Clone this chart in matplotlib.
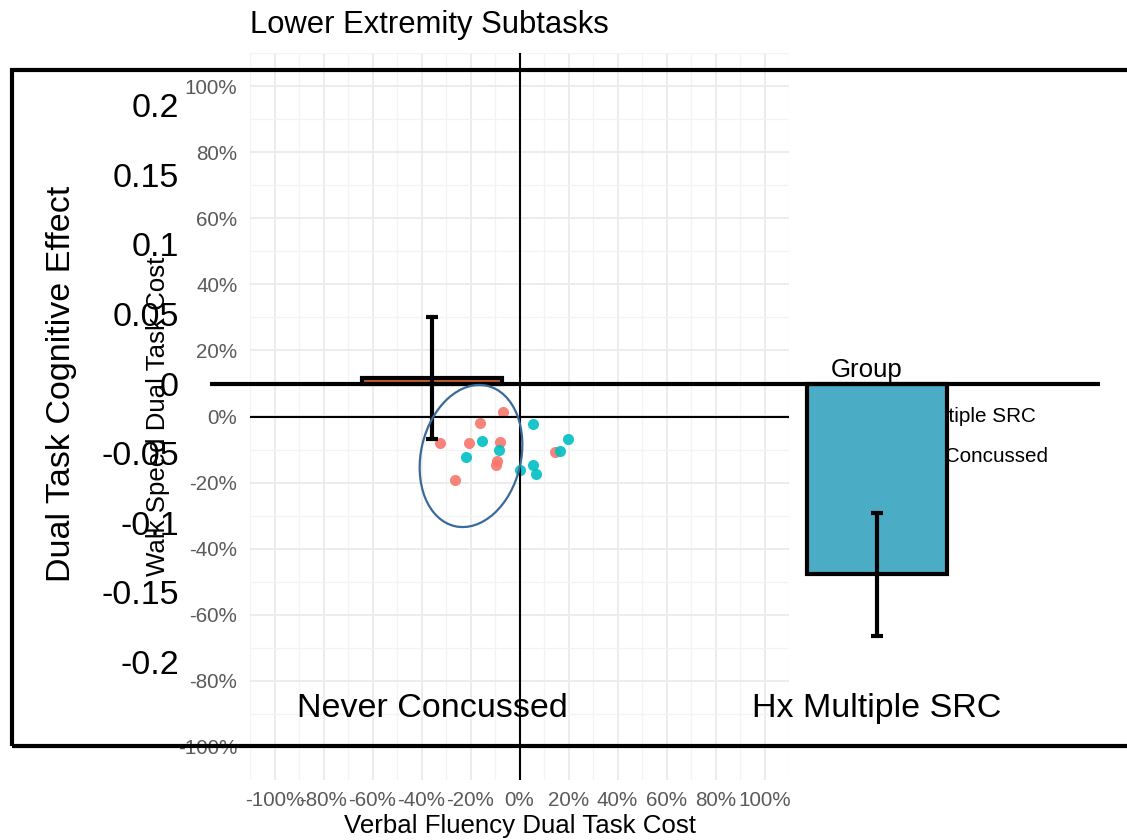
import matplotlib.pyplot as plt
from matplotlib.patches import Rectangle, Ellipse
from matplotlib.ticker import FuncFormatter, MultipleLocator

plt.rcParams['font.family'] = ['Liberation Sans', 'DejaVu Sans']
plt.rcParams['axes.unicode_minus'] = False

# scatter (ggplot layer) data
never_x = [-0.068, -0.163, -0.324, -0.208, -0.078, -0.093, -0.095, -0.265, 0.146]
never_y = [0.013, -0.019, -0.081, -0.079, -0.077, -0.134, -0.148, -0.191, -0.106]
multi_x = [0.057, -0.155, -0.084, -0.218, 0.197, 0.167, 0.0, 0.054, 0.069]
multi_y = [-0.022, -0.074, -0.100, -0.122, -0.068, -0.103, -0.163, -0.146, -0.174]
legend_labels = ['Hx Multiple SRC', 'Never Concussed']

# bar chart layer data
groups = ['Never Concussed', 'Hx Multiple SRC']
effect = [0.004, -0.137]
effect_err = [0.044, 0.044]
bar_colors = ['#D2642A', '#4BACC6']
bar_ticks = [0.2, 0.15, 0.1, 0.05, 0, -0.05, -0.1, -0.15, -0.2]

W, H = 1127, 840
fig = plt.figure(figsize=(W / 100, H / 100), dpi=100)

# ---- ggplot-like scatter underneath ----
ax = fig.add_axes([250 / W, 1 - 780 / H, 539 / W, 727 / H])
ax.set_xlim(-1.1, 1.1)
ax.set_ylim(-1.1, 1.1)
for s in ax.spines.values():
    s.set_visible(False)
ax.xaxis.set_major_locator(MultipleLocator(0.2))
ax.yaxis.set_major_locator(MultipleLocator(0.2))
ax.xaxis.set_minor_locator(MultipleLocator(0.1))
ax.yaxis.set_minor_locator(MultipleLocator(0.1))
pct = FuncFormatter(lambda v, p: '%d%%' % round(v * 100))
ax.xaxis.set_major_formatter(pct)
ax.yaxis.set_major_formatter(pct)
ax.grid(which='major', color='#ebebeb', lw=1.3)
ax.grid(which='minor', color='#f3f3f3', lw=0.9)
ax.tick_params(which='both', length=0, labelsize=14.9, labelcolor='#5a5a5a')
ax.tick_params(axis='y', pad=9)
ax.tick_params(axis='x', pad=8)
ax.set_axisbelow(True)
ax.axvline(0, color='black', lw=1.5)
ax.axhline(0, color='black', lw=1.5)
ax.scatter(never_x, never_y, s=64, color='#F8766D', alpha=0.9, lw=0)
ax.scatter(multi_x, multi_y, s=64, color='#00BFC4', alpha=0.9, lw=0)
ax.set_xlabel('Verbal Fluency Dual Task Cost', fontsize=18.6)
ax.set_ylabel('Walk Speed Dual Task Cost', fontsize=18.6)
ax.xaxis.set_label_coords(0.5, -0.063)
ax.xaxis.label.set_va('center')
ax.yaxis.set_label_coords(-0.171, 0.5)
ax.yaxis.label.set_va('center')
ax.set_title('Lower Extremity Subtasks', loc='left', fontsize=22.3, pad=14.5)

# legend (mostly hidden behind the bar)
ax.text((831 - 250) / 539, (780 - 370) / 727, 'Group', transform=ax.transAxes,
        fontsize=18.6, ha='left', va='center', clip_on=False)
for i, lab in enumerate(legend_labels):
    ax.text((884 - 250) / 539, (780 - 416 - 40 * i) / 727, lab, transform=ax.transAxes,
            fontsize=14.9, ha='left', va='center', clip_on=False)

# ---- bar chart pasted on top ----
bx = fig.add_axes([209.5 / W, 1 - 662 / H, 890 / W, 557 / H])
bx.patch.set_visible(False)
for s in bx.spines.values():
    s.set_visible(False)
bx.set_xlim(-0.5, 1.5)
bx.set_ylim(-0.2, 0.2)
xpos = range(len(groups))
bx.bar(xpos, effect, width=0.315, color=bar_colors, edgecolor='black', lw=3, zorder=2)
bx.errorbar(xpos, effect, yerr=effect_err, fmt='none', ecolor='black', elinewidth=3,
            capsize=4.3, capthick=3, zorder=3)
bx.axhline(0, color='black', lw=3, zorder=4)
bx.set_xticks(list(xpos))
bx.set_xticklabels(groups)
bx.set_yticks(bar_ticks)
bx.yaxis.set_major_formatter(FuncFormatter(lambda v, p: '%g' % round(v, 2)))
bx.tick_params(length=0, labelsize=24.5, labelcolor='black')
bx.tick_params(axis='y', pad=22)
bx.tick_params(axis='x', pad=22)
bx.set_ylabel('Dual Task Cognitive Effect', fontsize=24.5)
bx.yaxis.set_label_coords((62 - 209.5) / 890, 0.5)
bx.yaxis.label.set_va('center')

# chart border
border = Rectangle((12 / W, 1 - 746 / H), 1.2, (746 - 70) / H, transform=fig.transFigure,
                   fill=False, edgecolor='black', lw=3, clip_on=False, zorder=5)
bx.add_patch(border)

# hand-drawn highlight ellipse
ell = Ellipse((4.71, (H - 456) / 100), 1.0, 1.44, angle=-13, transform=fig.dpi_scale_trans,
              fill=False, edgecolor='#3A6A9A', lw=1.6)
fig.add_artist(ell)

fig.savefig('out.png', dpi=100)
